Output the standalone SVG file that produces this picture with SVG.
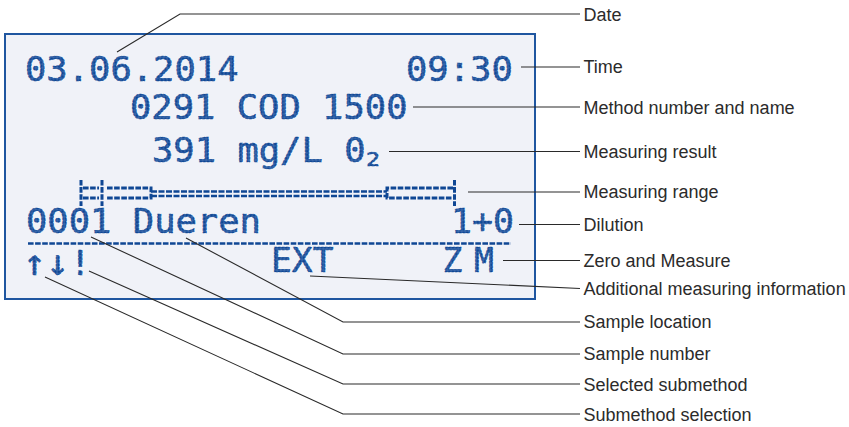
<svg xmlns="http://www.w3.org/2000/svg" width="849" height="427" viewBox="0 0 849 427">
<defs>
<pattern id="dots" patternUnits="userSpaceOnUse" x="0.3" y="0.3" width="3.55" height="3.55">
<rect width="3.55" height="3.55" fill="#4a74b4"/>
<rect x="0.4" y="0.4" width="2.75" height="2.75" fill="#0f4794"/>
</pattern>
</defs>
<style>
.lcd{font-family:"DejaVu Sans Mono","Liberation Mono",monospace;font-size:33px;font-weight:normal;fill:url(#dots);stroke:#0f4794;stroke-width:0.6;stroke-dasharray:2.6 1}
.lbl{font-family:"Liberation Sans",Arial,sans-serif;font-size:18px;fill:#2b2b2b}
.ld{fill:none;stroke:#2a2a2a;stroke-width:1.1}
.bar{fill:none;stroke:#0f4794;stroke-width:3;stroke-dasharray:5.6 1.5}
.bar2{fill:none;stroke:#0f4794;stroke-width:2.3;stroke-dasharray:6 1.5}
</style>
<rect width="849" height="427" fill="#ffffff"/>
<g id="display">
<rect x="5" y="34" width="530" height="265" fill="#f0f2f8" stroke="#1f56a0" stroke-width="2"/>
</g>
<g id="lcd-date"><text class="lcd" x="25" y="81" textLength="213.5" lengthAdjust="spacingAndGlyphs">03.06.2014</text></g>
<g id="lcd-time"><text class="lcd" x="406" y="81" textLength="106.8" lengthAdjust="spacingAndGlyphs">09:30</text></g>
<g id="lcd-method"><text class="lcd" x="130" y="119" textLength="277.5" lengthAdjust="spacingAndGlyphs">0291 COD 1500</text></g>
<g id="lcd-result"><text class="lcd" x="152" y="162" textLength="213.5" lengthAdjust="spacingAndGlyphs">391 mg/L 0</text><text class="lcd" x="366" y="165.5" style="font-size:19px" textLength="14" lengthAdjust="spacingAndGlyphs">2</text></g>
<g id="lcd-range">
<line class="bar" x1="81" y1="180" x2="81" y2="206"/>
<line class="bar" x1="102" y1="180" x2="102" y2="206"/>
<line class="bar" x1="83" y1="188" x2="99" y2="188"/>
<line class="bar" x1="83" y1="198" x2="99" y2="198"/>
<path class="bar" d="M107,188 H151 V198 H107"/>
<line class="bar2" x1="151" y1="191.5" x2="387" y2="191.5"/>
<line class="bar2" x1="151" y1="196" x2="387" y2="196"/>
<path class="bar" d="M453,188 H387 V198 H453"/>
<line class="bar" x1="454.5" y1="180" x2="454.5" y2="206"/>
</g>
<g id="lcd-sample"><text class="lcd" x="26" y="233" textLength="234.9" lengthAdjust="spacingAndGlyphs">0001 Dueren</text></g>
<g id="lcd-dilution"><text class="lcd" x="451" y="233" textLength="63" lengthAdjust="spacingAndGlyphs">1+0</text></g>
<g id="lcd-separator"><line x1="28" y1="243.5" x2="511" y2="243.5" stroke="#0f4794" stroke-width="2.7" stroke-dasharray="5.6 1.5"/></g>
<g id="lcd-submethod"><text class="lcd" x="23" y="275" textLength="68" lengthAdjust="spacingAndGlyphs"><tspan style="font-size:36px">↑↓</tspan>!</text></g>
<g id="lcd-ext"><text class="lcd" x="271" y="272" textLength="62.5" lengthAdjust="spacingAndGlyphs">EXT</text></g>
<g id="lcd-zm"><text class="lcd" x="452.5" y="272" text-anchor="middle">Z</text><text class="lcd" x="484" y="272" text-anchor="middle">M</text></g>
<g id="connectors">
<polyline class="ld" points="117,52 180,14 580,14"/>
<line class="ld" x1="521" y1="67" x2="580" y2="67"/>
<line class="ld" x1="413" y1="107" x2="580" y2="107"/>
<line class="ld" x1="389" y1="151.5" x2="580" y2="151.5"/>
<line class="ld" x1="468" y1="192" x2="580" y2="192"/>
<line class="ld" x1="519" y1="224.5" x2="580" y2="224.5"/>
<line class="ld" x1="503" y1="260.5" x2="580" y2="260.5"/>
<polyline class="ld" points="310,276 580,288.5"/>
<polyline class="ld" points="186,238 343,322 580,322"/>
<polyline class="ld" points="91,237 343,354 580,354"/>
<polyline class="ld" points="89,271 343,384 580,384"/>
<polyline class="ld" points="45,277 343,414 580,414"/>
</g>
<g id="label-date"><text class="lbl" x="583.5" y="20.7">Date</text></g>
<g id="label-time"><text class="lbl" x="583.5" y="72.9">Time</text></g>
<g id="label-method"><text class="lbl" x="583.5" y="113.5">Method number and name</text></g>
<g id="label-result"><text class="lbl" x="583.5" y="158">Measuring result</text></g>
<g id="label-range"><text class="lbl" x="583.5" y="198.3">Measuring range</text></g>
<g id="label-dilution"><text class="lbl" x="583.5" y="230.5">Dilution</text></g>
<g id="label-zero"><text class="lbl" x="583.5" y="266.7">Zero and Measure</text></g>
<g id="label-additional"><text class="lbl" x="583.5" y="294.5">Additional measuring information</text></g>
<g id="label-location"><text class="lbl" x="583.5" y="328.3">Sample location</text></g>
<g id="label-number"><text class="lbl" x="583.5" y="360.3">Sample number</text></g>
<g id="label-selected"><text class="lbl" x="583.5" y="390.7">Selected submethod</text></g>
<g id="label-selection"><text class="lbl" x="583.5" y="420.5">Submethod selection</text></g>
</svg>
